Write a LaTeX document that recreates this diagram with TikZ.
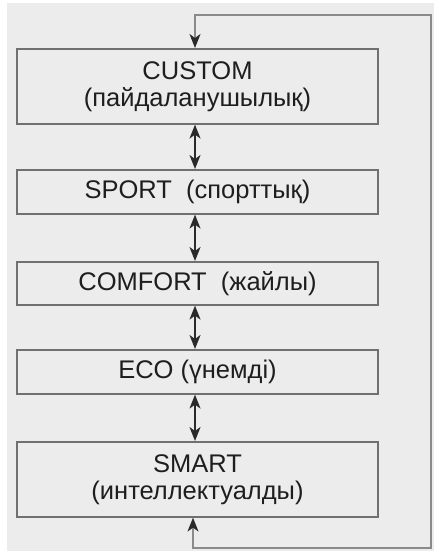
\documentclass[tikz,border=0pt]{standalone}
\usepackage{fontspec}
\setmainfont{Liberation Sans}
\usetikzlibrary{arrows.meta}
\definecolor{bgc}{HTML}{ECECEC}
\definecolor{boxline}{HTML}{707070}
\definecolor{loopline}{HTML}{8A8A8A}
\definecolor{arrc}{HTML}{2A2A2A}
\definecolor{txt}{HTML}{1E1E1E}
\begin{document}
\begin{tikzpicture}[x=1pt,y=1pt,
  modebox/.style={draw=boxline, line width=1.6pt, fill=bgc, minimum width=361pt, text=txt,
    font=\fontsize{25.5}{27}\selectfont, align=center, inner sep=0pt, anchor=north},
  tip/.style={arrc, line width=1.6pt, {Stealth[length=14pt,width=11pt,inset=4pt]}-{Stealth[length=14pt,width=11pt,inset=4pt]}},
  looparr/.style={loopline, line width=1.4pt, arrows={Stealth[length=14pt,width=11pt,inset=4pt,color=arrc]-Stealth[length=14pt,width=11pt,inset=4pt,color=arrc]}}
]
\useasboundingbox (0,0) rectangle (434,-553);
\fill[bgc] (7,-3) rectangle (434,-551);
\node[modebox, minimum height=75pt] (custom) at (197.5,-48) {CUSTOM\\(пайдаланушылық)};
\node[modebox, minimum height=44pt] (sport) at (197.5,-169) {SPORT\ \ (спорттық)};
\node[modebox, minimum height=43pt] (comfort) at (197.5,-261) {COMFORT\ \ (жайлы)};
\node[modebox, minimum height=44pt] (eco) at (197.5,-349) {ECO (үнемді)};
\node[modebox, minimum height=75pt] (smart) at (197.5,-441) {SMART\\(интеллектуалды)};
\draw[tip] ([xshift=-2.5pt]custom.south) -- ([xshift=-2.5pt]sport.north);
\draw[tip] ([xshift=-2.5pt]sport.south) -- ([xshift=-2.5pt]comfort.north);
\draw[tip] ([xshift=-2.5pt]comfort.south) -- ([xshift=-2.5pt]eco.north);
\draw[tip] ([xshift=-2.5pt]eco.south) -- ([xshift=-2.5pt]smart.north);
\coordinate (b1) at (193,-548);
\coordinate (b2) at (431,-548);
\coordinate (t2) at (431,-15);
\coordinate (t1) at (195,-15);
\draw[looparr] ([xshift=-4.5pt]smart.south) -- (b1) -- (b2) -- (t2) -- (t1) -- ([xshift=-2.5pt]custom.north);
\end{tikzpicture}
\end{document}
